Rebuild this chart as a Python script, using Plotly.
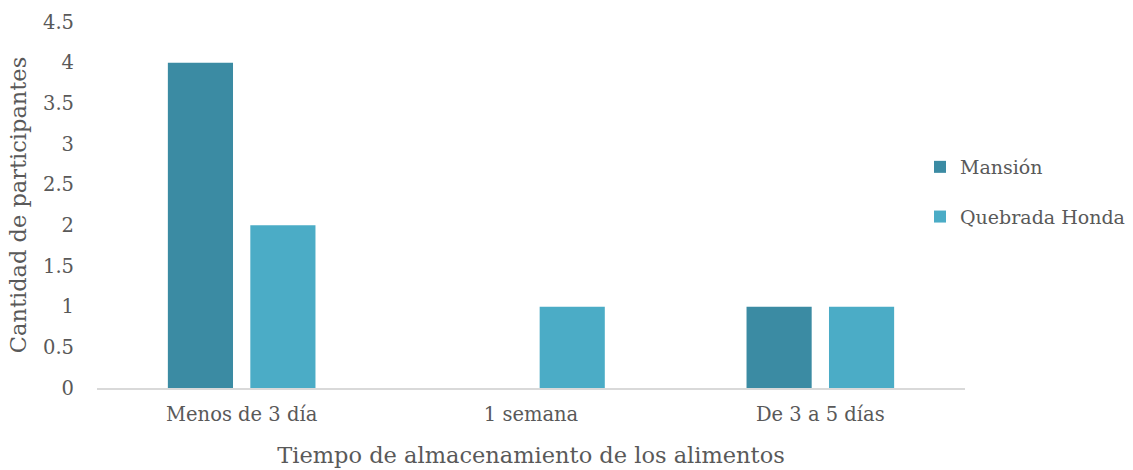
import plotly.graph_objects as go

categories = ["Menos de 3 día", "1 semana", "De 3 a 5 días"]
mansion = [4, 0, 1]
quebrada = [2, 1, 1]
y_ticks = [0, 0.5, 1, 1.5, 2, 2.5, 3, 3.5, 4, 4.5]

FONT = "DejaVu Serif"
TXT = "#595959"

fig = go.Figure()
fig.add_trace(go.Bar(name="Mansión", x=categories, y=mansion, marker_color="#3B8BA3",
                     marker_line_width=0, legendgroup="a"))
fig.add_trace(go.Bar(name="Quebrada Honda", x=categories, y=quebrada, marker_color="#4BACC6",
                     marker_line_width=0, legendgroup="b"))

fig.update_layout(
    width=1133, height=470,
    margin=dict(l=97, r=168, t=22, b=82, autoexpand=False),
    paper_bgcolor="white", plot_bgcolor="white",
    barmode="group", bargap=0.43, bargroupgap=0.21,
    font=dict(family=FONT, color=TXT, size=19),
    legend=dict(x=(920 - 97) / 868, xref="paper", y=(388 - 192) / 366, yanchor="middle",
                font=dict(size=19, color=TXT), traceorder="grouped", tracegroupgap=22,
                itemwidth=30, bgcolor="rgba(0,0,0,0)"),
    xaxis=dict(showline=True, linecolor="#D9D9D9", linewidth=2, ticks="",
               ticklabelstandoff=8,
               tickfont=dict(size=19.5, color=TXT),
               title=dict(text="Tiempo de almacenamiento de los alimentos",
                          font=dict(size=22.5, color=TXT), standoff=22)),
    yaxis=dict(range=[0, 4.5], tickvals=y_ticks, ticktext=[f"{v:g}" for v in y_ticks],
               showgrid=False, zeroline=False, showline=False, ticks="",
               ticklabelstandoff=22,
               tickfont=dict(size=19.5, color=TXT),
               title=dict(text="Cantidad de participantes", font=dict(size=22.5, color=TXT),
                          standoff=10)),
)
fig.write_html("out.html", config={"displayModeBar": False},
               post_script="document.body.style.margin='0';")
